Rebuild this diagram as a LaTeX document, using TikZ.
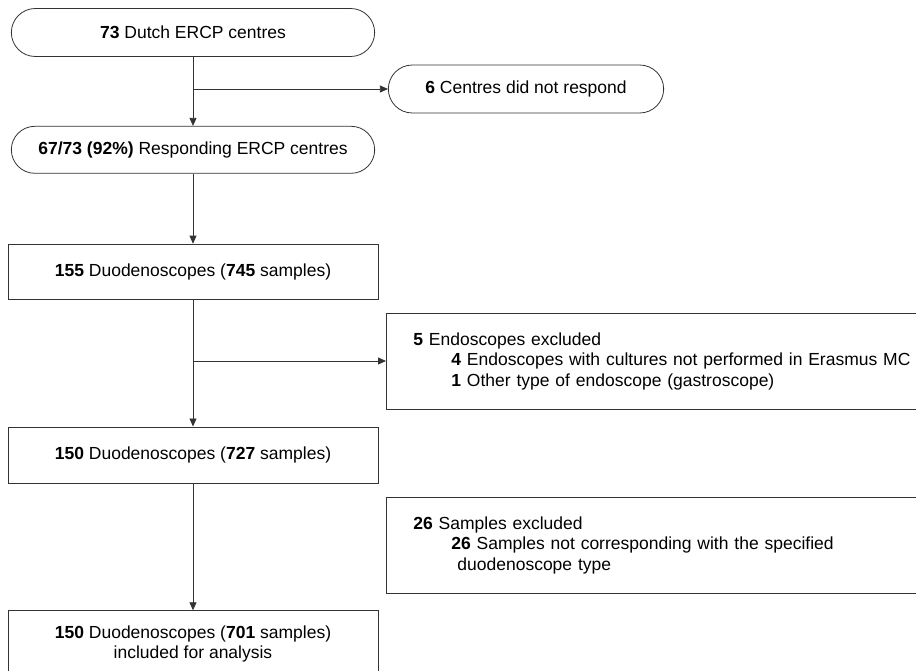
\documentclass[tikz,border=0pt]{standalone}
\usepackage{fontspec}
\setmainfont{Liberation Sans}
\usetikzlibrary{positioning,shapes.misc,arrows.meta}

\begin{document}
\begin{tikzpicture}[x=1pt, y=1pt, >={Triangle[length=8pt, width=7pt]},
roundnode/.style={rounded rectangle, draw=black!80, line width=0.8pt, minimum width=370pt, minimum height=48pt, font=\fontsize{17.5}{20.5}\selectfont},
squarednode/.style={rectangle, draw=black!80, line width=0.8pt, minimum width=370pt, minimum height=55pt, font=\fontsize{17.5}{20.5}\selectfont},
exclnode/.style={rectangle, draw=black!80, line width=0.8pt, inner xsep=27pt, minimum height=96pt, text width=530pt, align=left, font=\fontsize{17.5}{20.5}\selectfont},
line/.style={draw=black!80, line width=0.8pt},
]
\path[use as bounding box, clip] (0,0) rectangle (916,-671);

%Nodes
\node[roundnode]      (Centres)   at (193,-32.5)                {\textbf{73} Dutch ERCP centres};
\node[roundnode, minimum width=282pt]      (NoResp)    at (526,-89)    {\textbf{6} Centres did not respond};
\node[roundnode, minimum height=47pt]      (Resp)      [below=69pt of Centres]      {\textbf{67/73 (92\%)} Responding ERCP centres};
\node[squarednode]    (ScopesA)   [below=70pt of Resp]          {\textbf{155} Duodenoscopes (\textbf{745} samples)};
\node[squarednode, minimum height=56pt]    (ScopesB)   [below=127pt of ScopesA]      {\textbf{150} Duodenoscopes (\textbf{727} samples)};
\node[squarednode, minimum height=67pt, align=center]    (ScopesC)   [below=127pt of ScopesB]      {\textbf{150} Duodenoscopes (\textbf{701} samples)\\included for analysis};
\node[exclnode, anchor=west]       (ExclA)     at (386,-361)    {\textbf{5} Endoscopes excluded\\
\hspace*{38pt}\textbf{4} Endoscopes with cultures not performed in Erasmus MC\\
\hspace*{38pt}\textbf{1} Other type of endoscope (gastroscope)};
\node[exclnode, anchor=west]       (ExclB)     at (386,-545)    {\textbf{26} Samples excluded\\
\hspace*{38pt}\textbf{26} Samples not corresponding with the specified\\
\hspace*{44pt}duodenoscope type};

%Lines
\draw[line, ->] (Centres.south) -- (Resp.north);
\draw[line, ->] (Centres.south |- NoResp.west) -- (NoResp.west);
\draw[line, ->] (Resp.south) -- (ScopesA.north);
\draw[line, ->] (ScopesA.south) -- (ScopesB.north);
\draw[line, ->] (ScopesA.south |- ExclA.west) -- (ExclA.west);
\draw[line, ->] (ScopesB.south) -- (ScopesC.north);
\end{tikzpicture}
\end{document}
